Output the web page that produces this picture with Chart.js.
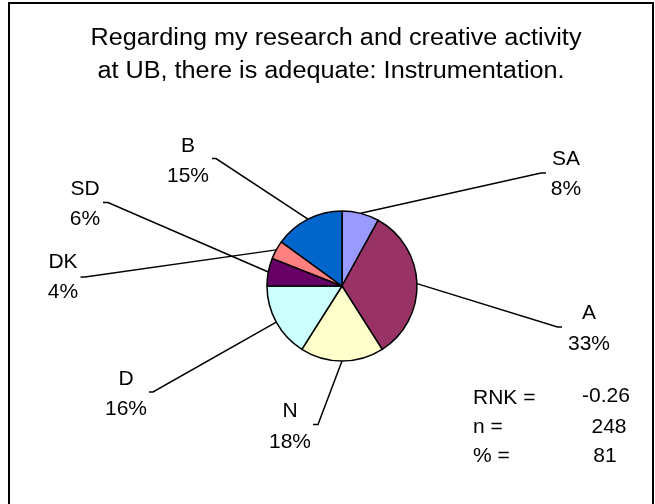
<!DOCTYPE html>
<html><head><meta charset="utf-8">
<script src="https://cdn.jsdelivr.net/npm/chart.js@4/dist/chart.umd.min.js"></script>
<style>html,body{margin:0;padding:0;background:#fff;}canvas{display:block;}</style>
</head><body>
<canvas id="c" width="655" height="504"></canvas>
<script>
// ---- data ----
const categories = ['SA', 'A', 'N', 'D', 'SD', 'DK', 'B'];
const percentValues = [8, 33, 18, 16, 6, 4, 15];
const titleLines = ['Regarding my research and creative activity', 'at UB, there is adequate: Instrumentation.'];
const statLabels = ['RNK =', 'n =', '% ='];
const statValues = ['-0.26', '248', '81'];

// ---- styles / layout ----
const sliceColors = ['#9999FF', '#993366', '#FFFFCC', '#CCFFFF', '#660066', '#FF8080', '#0066CC'];
const FONT = '"Liberation Sans", Arial, sans-serif';
// label placement (as dragged in the original): text centre x, two baselines, leader tick
const labelLayout = [
  {cx: 566, b1: 165, b2: 195, tin: 541, tout: 546, ty: 173},   // SA
  {cx: 589, b1: 319, b2: 350, tin: 557.5, tout: 562, ty: 327}, // A
  {cx: 290, b1: 417, b2: 448, tin: 318, tout: 313, ty: 424.5}, // N
  {cx: 126, b1: 385, b2: 415, tin: 153, tout: 149, ty: 392},   // D
  {cx: 85, b1: 195, b2: 225, tin: 108, tout: 103, ty: 202.5},  // SD
  {cx: 63, b1: 268, b2: 298, tin: 85, tout: 80.5, ty: 277},    // DK
  {cx: 188, b1: 152, b2: 182, tin: 216, tout: 212, ty: 158.5}  // B
];
const titleLayout = [{cx: 336, b: 45}, {cx: 331, b: 78}];
const statLayout = {labelX: 473, valueCx: [606, 609, 605], labelB: [404, 433, 462], valueB: [402, 433, 462]};

const decorPlugin = {
  id: 'decor',
  beforeDraw(chart) {
    const ctx = chart.ctx;
    ctx.save();
    ctx.fillStyle = '#fff';
    ctx.fillRect(0, 0, chart.width, chart.height);
    ctx.restore();
  },
  afterDatasetsDraw(chart) {
    const ctx = chart.ctx;
    const meta = chart.getDatasetMeta(0);
    ctx.save();
    ctx.strokeStyle = '#000';
    ctx.lineWidth = 1.5;
    meta.data.forEach((arc, i) => {
      const p = arc.getProps(['x', 'y', 'startAngle', 'endAngle', 'outerRadius'], true);
      const mid = (p.startAngle + p.endAngle) / 2;
      const px = p.x + Math.cos(mid) * p.outerRadius;
      const py = p.y + Math.sin(mid) * p.outerRadius;
      const L = labelLayout[i];
      ctx.beginPath();
      ctx.moveTo(px, py);
      ctx.lineTo(L.tin, L.ty);
      ctx.lineTo(L.tout, L.ty);
      ctx.stroke();
    });
    ctx.fillStyle = '#000';
    ctx.font = '21px ' + FONT;
    ctx.textAlign = 'center';
    ctx.textBaseline = 'alphabetic';
    categories.forEach((c, i) => {
      const L = labelLayout[i];
      ctx.fillText(c, L.cx, L.b1);
      ctx.fillText(percentValues[i] + '%', L.cx, L.b2);
    });
    // stats
    ctx.textAlign = 'left';
    statLabels.forEach((s, i) => ctx.fillText(s, statLayout.labelX, statLayout.labelB[i]));
    ctx.textAlign = 'center';
    statValues.forEach((s, i) => ctx.fillText(s, statLayout.valueCx[i], statLayout.valueB[i]));
    // title
    ctx.font = '23px ' + FONT;
    const w0 = ctx.measureText(titleLines[0]).width;
    const sx = 491 / w0;
    titleLines.forEach((t, i) => {
      ctx.save();
      ctx.translate(titleLayout[i].cx, titleLayout[i].b);
      ctx.scale(sx, 1);
      ctx.fillText(t, 0, 0);
      ctx.restore();
    });
    // frame
    ctx.lineWidth = 2;
    ctx.strokeRect(9, 3, 644, 530);
    ctx.restore();
  }
};

new Chart(document.getElementById('c'), {
  type: 'pie',
  data: {
    labels: categories,
    datasets: [{
      data: percentValues,
      backgroundColor: sliceColors,
      borderColor: '#000',
      borderWidth: 1.5
    }]
  },
  options: {
    responsive: false,
    animation: false,
    events: [],
    radius: 75,
    layout: {padding: {left: 29, top: 68, right: 0, bottom: 0}},
    plugins: {legend: {display: false}, tooltip: {enabled: false}, title: {display: false}}
  },
  plugins: [decorPlugin]
});
</script>
</body></html>
